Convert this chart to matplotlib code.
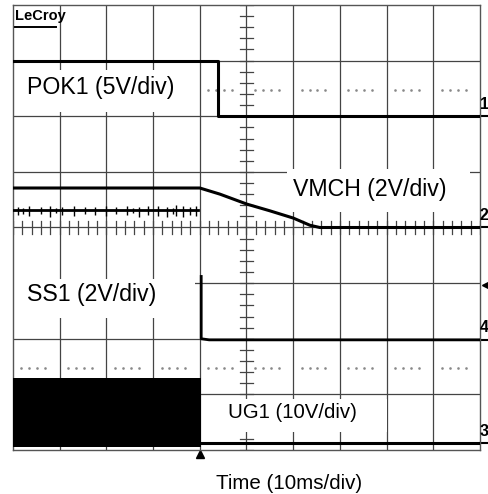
import matplotlib.pyplot as plt
from matplotlib.patches import Rectangle

# scope screen: 10 divisions across, 8 divisions up
n_xdiv = 10
n_ydiv = 8

# POK1 (5V/div)
t_pok1 = [0, 4.39, 4.39, 10]
v_pok1 = [7.0, 7.0, 6.0, 6.0]

# VMCH (2V/div)
t_vmch = [0, 4.0, 4.43, 5.01, 5.5, 6.0, 6.36, 6.57, 10]
v_vmch = [4.71, 4.71, 4.60, 4.42, 4.30, 4.17, 4.04, 4.0, 4.0]

# SS1 (2V/div) - noisy trace before the trigger, then the drop
t_ss1_pre = [0, 3.97]
v_ss1_pre = [4.31, 4.31]
t_ss1_spk = [0.1, 0.22, 0.35, 0.6, 0.8, 0.93, 1.05, 1.3, 1.55, 1.75, 2.0, 2.2,
             2.45, 2.58, 2.7, 2.9, 3.1, 3.3, 3.42, 3.5, 3.65, 3.8, 3.92]
ss1_spk_lo = [4.22, 4.25, 4.20, 4.24, 4.19, 4.26, 4.23, 4.21, 4.25, 4.22, 4.20,
              4.24, 4.22, 4.26, 4.19, 4.23, 4.21, 4.18, 4.25, 4.20, 4.19, 4.22, 4.21]
ss1_spk_hi = [4.37, 4.35, 4.38, 4.36, 4.39, 4.35, 4.37, 4.38, 4.36, 4.37, 4.39,
              4.36, 4.38, 4.35, 4.37, 4.38, 4.39, 4.37, 4.35, 4.40, 4.38, 4.37, 4.39]
t_ss1 = [4.03, 4.03, 4.2, 10]
v_ss1 = [3.12, 2.0, 1.98, 1.98]

# UG1 (10V/div) - switching block before trigger, flat after
t_ug1_block = [0, 4.02]
ug1_top = [1.30, 1.30]
ug1_bot = [0.06, 0.06]
t_ug1 = [4.02, 10]
v_ug1 = [0.12, 0.12]

# channel ground markers on the right edge
ch_names = ["1", "2", "4", "3"]
ch_levels = [6.0, 4.0, 1.98, 0.12]

fig = plt.figure(figsize=(4.89, 4.94), dpi=100)
ax = fig.add_axes([13 / 489, 44 / 494, 467 / 489, 445 / 494])
ax.set_xlim(0, n_xdiv)
ax.set_ylim(0, n_ydiv)
ax.set_xticks([])
ax.set_yticks([])
for s in ax.spines.values():
    s.set_color("#555555")
    s.set_linewidth(1.0)

grid_c = "#444444"
for i in range(1, n_xdiv):
    ax.axvline(i, color=grid_c, lw=0.9, zorder=1)
for j in range(1, n_ydiv):
    ax.axhline(j, color=grid_c, lw=0.9, zorder=1)

# minor ticks on the centre cross
for k in range(n_ydiv * 5 + 1):
    ax.plot([4.87, 5.13], [k / 5, k / 5], color=grid_c, lw=0.9, zorder=1)
for k in range(n_xdiv * 5 + 1):
    ax.plot([k / 5, k / 5], [3.89, 4.11], color=grid_c, lw=0.9, zorder=1)

# dotted reference rows
dot_off = [0.18, 0.35, 0.52, 0.69]
for row in [6.47, 1.47]:
    xs = [d + o for d in range(n_xdiv) for o in dot_off]
    ax.plot(xs, [row] * len(xs), ls="none", marker="s", ms=0.8,
            color="#888888", zorder=1)

# white label boxes that hide the grid
for (x0, y0, w, h) in [(0.02, 6.08, 3.83, 0.75), (5.87, 4.28, 3.92, 0.77),
                       (0.02, 2.37, 3.88, 0.71), (4.45, 0.32, 3.55, 0.6)]:
    ax.add_patch(Rectangle((x0, y0), w, h, facecolor="white",
                           edgecolor="none", zorder=2))

lab = dict(family=["Liberation Sans", "DejaVu Sans"], color="black", zorder=5)
ax.text(0.29, 6.40, "POK1 (5V/div)", fontsize=16.7, **lab)
ax.text(5.99, 4.57, "VMCH (2V/div)", fontsize=16.7, **lab)
ax.text(0.29, 2.68, "SS1 (2V/div)", fontsize=16.7, **lab)
ax.text(4.6, 0.58, "UG1 (10V/div)", fontsize=14.7, **lab)

# traces
ax.plot(t_pok1, v_pok1, color="black", lw=2.2, zorder=4)
ax.plot(t_vmch, v_vmch, color="black", lw=2.2, zorder=4)
ax.plot(t_ss1_pre, v_ss1_pre, color="black", lw=2.0, zorder=4)
ax.vlines(t_ss1_spk, ss1_spk_lo, ss1_spk_hi, color="black", lw=1.0, zorder=4)
ax.plot(t_ss1, v_ss1, color="black", lw=2.0, zorder=4)
ax.fill_between(t_ug1_block, ug1_bot, ug1_top, color="black", lw=0, zorder=4)
ax.plot(t_ug1, v_ug1, color="black", lw=2.2, zorder=4)

# channel markers
mk = dict(family=["Liberation Sans", "DejaVu Sans"],
          fontsize=11.5, color="black", fontweight="bold")
for name, lvl in zip(ch_names, ch_levels):
    ax.text(9.995, lvl + 0.08, name, ha="left", va="bottom", clip_on=False, **mk)
    ax.plot([10, 10.17], [lvl, lvl], color="black", lw=1.5, clip_on=False)
ax.plot(10.13, 2.97, marker="<", ms=6, color="black", clip_on=False)
ax.plot(4.0, -0.07, marker="^", ms=6, color="black", clip_on=False)

# logo
ax.text(0.05, 7.93, "LeCroy", ha="left", va="top", fontsize=10.5, fontweight="bold",
        family=["Liberation Sans Narrow", "Liberation Sans", "DejaVu Sans"], zorder=5)
ax.plot([0.05, 0.93], [7.61, 7.61], color="black", lw=1.4, zorder=5)

fig.text(0.591, 5 / 494, "Time (10ms/div)", ha="center", va="baseline",
         fontsize=14.8, family=["Liberation Sans", "DejaVu Sans"])

fig.savefig("out.png", dpi=100, facecolor="white")
